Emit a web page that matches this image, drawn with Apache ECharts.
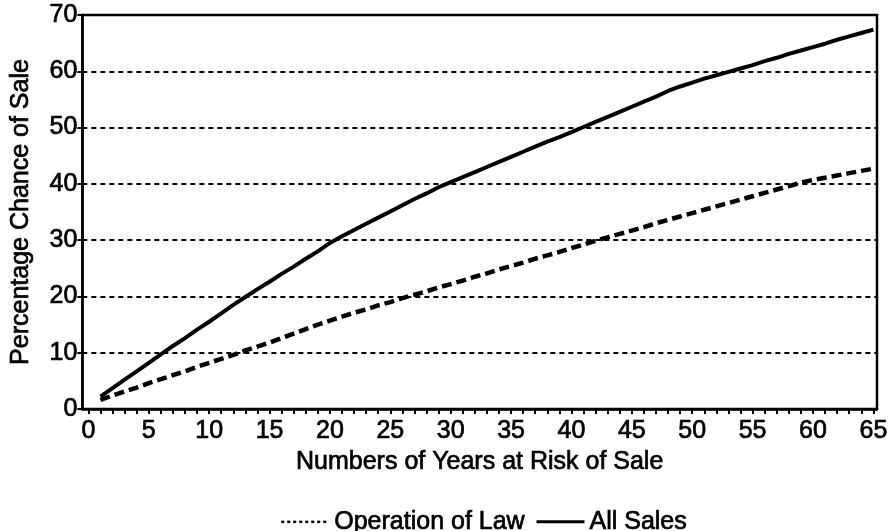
<!DOCTYPE html>
<html>
<head>
<meta charset="utf-8">
<script src="https://cdn.jsdelivr.net/npm/echarts@6/dist/echarts.min.js"></script>
<style>
  html, body { margin: 0; padding: 0; background: #fff; }
  #chart { width: 896px; height: 531px; }
</style>
</head>
<body>
<div id="chart"></div>
<script>
  // years at risk of sale
  var years = [];
  for (var i = 1; i <= 65; i++) years.push(i);

  var allSales = [
    2.2, 3.7, 5.2, 6.7, 8.2, 9.7, 11.2, 12.6, 14.1, 15.5,
    17.0, 18.5, 19.9, 21.3, 22.6, 24.0, 25.3, 26.7, 28.0, 29.5,
    30.7, 31.8, 32.9, 34.0, 35.1, 36.2, 37.3, 38.3, 39.4, 40.3,
    41.2, 42.1, 43.0, 43.9, 44.8, 45.7, 46.6, 47.5, 48.3, 49.2,
    50.1, 51.0, 51.9, 52.8, 53.7, 54.6, 55.5, 56.5, 57.3, 58.0,
    58.7, 59.3, 59.9, 60.5, 61.1, 61.8, 62.4, 63.1, 63.7, 64.3,
    64.9, 65.6, 66.2, 66.8, 67.4
  ];

  var operationOfLaw = [
    1.6, 2.4, 3.1, 3.8, 4.6, 5.3, 6.0, 6.7, 7.5, 8.2,
    8.9, 9.6, 10.4, 11.1, 11.8, 12.6, 13.4, 14.2, 15.0, 15.7,
    16.4, 17.1, 17.7, 18.4, 19.0, 19.7, 20.3, 20.9, 21.6, 22.2,
    22.8, 23.5, 24.1, 24.8, 25.4, 26.0, 26.7, 27.3, 27.9, 28.6,
    29.2, 29.9, 30.5, 31.1, 31.7, 32.3, 33.0, 33.6, 34.2, 34.8,
    35.4, 36.0, 36.6, 37.2, 37.8, 38.4, 39.0, 39.6, 40.2, 40.7,
    41.1, 41.5, 41.9, 42.3, 42.7
  ];

  // x tick marks at every year, labels every 5
  var xTicks = [];
  for (var t = 0; t <= 65; t++) xTicks.push(t);
  var xLabels = [0, 5, 10, 15, 20, 25, 30, 35, 40, 45, 50, 55, 60, 65];

  var font = "'Liberation Sans', Arial, sans-serif";
  var fs = 25;
  // scanned print looks heavier than regular weight
  var txt = { fontFamily: font, fontSize: fs, color: '#000', textBorderColor: '#000', textBorderWidth: 0.7 };

  function pairs(ys) {
    return ys.map(function (v, k) { return [years[k], v]; });
  }

  var chart = echarts.init(document.getElementById('chart'), null, { renderer: 'canvas' });
  chart.setOption({
    animation: false,
    backgroundColor: '#fff',
    textStyle: { fontFamily: font, color: '#000' },
    grid: {
      left: 81, right: 19, top: 15, bottom: 122,
      show: true, borderColor: '#000', borderWidth: 2.5
    },
    legend: {
      top: 504,
      left: 275,
      itemWidth: 48,
      itemHeight: 14,
      itemGap: 10,
      textStyle: txt,
      itemStyle: { color: 'rgba(0,0,0,0)', borderWidth: 0 },
      data: [
        { name: 'Operation of Law', lineStyle: { type: [3, 3], width: 2.5, color: '#000' } },
        { name: 'All Sales', lineStyle: { type: 'solid', width: 3, color: '#000' } }
      ]
    },
    xAxis: {
      type: 'value',
      min: -0.5,
      max: 65.3,
      name: 'Numbers of Years at Risk of Sale',
      nameLocation: 'middle',
      nameGap: 29,
      nameTextStyle: txt,
      axisLine: { show: true, onZero: false, lineStyle: { color: '#000', width: 2.5 } },
      axisTick: { show: true, inside: false, length: 5, customValues: xTicks, lineStyle: { color: '#000', width: 2 } },
      axisLabel: Object.assign({ customValues: xLabels, margin: 10 }, txt),
      splitLine: { show: false }
    },
    yAxis: {
      type: 'value',
      min: 0,
      max: 70,
      interval: 10,
      name: 'Percentage Chance of Sale',
      nameLocation: 'middle',
      nameGap: 49,
      nameTextStyle: txt,
      axisLine: { show: true, onZero: false, lineStyle: { color: '#000', width: 2.5 } },
      axisTick: { show: true, inside: false, length: 5, lineStyle: { color: '#000', width: 2 } },
      axisLabel: Object.assign({ margin: 5 }, txt),
      splitLine: { show: true, lineStyle: { color: '#000', width: 2, type: [5, 4] } }
    },
    series: [
      {
        name: 'Operation of Law',
        type: 'line',
        data: pairs(operationOfLaw),
        symbol: 'none',
        lineStyle: { color: '#000', width: 4.5, type: [10, 5] },
        itemStyle: { color: '#000' }
      },
      {
        name: 'All Sales',
        type: 'line',
        data: pairs(allSales),
        symbol: 'none',
        lineStyle: { color: '#000', width: 4 },
        itemStyle: { color: '#000' }
      }
    ]
  });
</script>
</body>
</html>
